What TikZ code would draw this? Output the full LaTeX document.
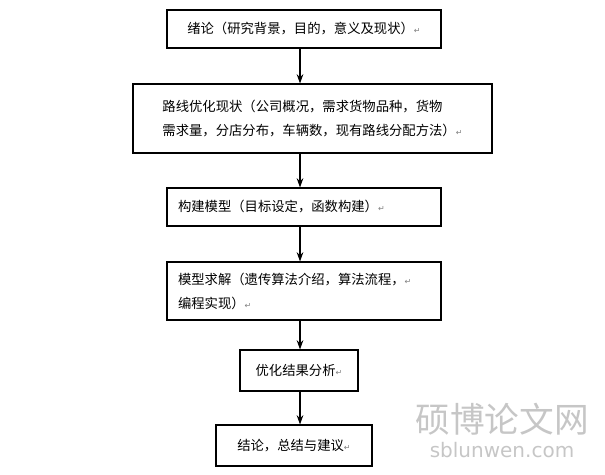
\documentclass[tikz,border=0pt]{standalone}
\usepackage{fontspec}
\setmainfont{Liberation Serif}
\newfontfamily\cjk{Noto Sans CJK SC}
\newfontfamily\symf{DejaVu Sans}
\usetikzlibrary{arrows.meta,positioning}
\newcommand{\pmark}{{\symf\fontsize{6}{6}\selectfont\textcolor{gray}{↵}}}
\tikzset{
  stepbox/.style={draw,thick,minimum height=#1,inner sep=0pt,font=\cjk\fontsize{10}{18}\selectfont},
  flow/.style={->,>={Stealth[length=7pt,width=5pt]},thick}
}
\begin{document}
\begin{tikzpicture}[x=0.75pt,y=-0.75pt]
\useasboundingbox (0,0) rectangle (605,474);
\node[stepbox=38*0.75pt,minimum width=274*0.75pt] (intro) at (304,29) {绪论（研究背景，目的，意义及现状）\pmark};
\node[stepbox=69*0.75pt,minimum width=359*0.75pt,align=left] (status) at (312.5,118.5)
  {路线优化现状（公司概况，需求货物品种，货物\\需求量，分店分布，车辆数，现有路线分配方法）\pmark};
\node[stepbox=38*0.75pt,minimum width=274*0.75pt,text width=252*0.75pt,align=left] (model) at (304,207)
  {构建模型（目标设定，函数构建）\pmark};
\node[stepbox=58*0.75pt,minimum width=274*0.75pt,text width=252*0.75pt,align=left] (solve) at (304,291)
  {模型求解（遗传算法介绍，算法流程，\pmark\\编程实现）\pmark};
\node[stepbox=41*0.75pt,minimum width=118*0.75pt] (result) at (299,370.5) {优化结果分析\pmark};
\node[stepbox=41*0.75pt,minimum width=156*0.75pt] (concl) at (294,445.5) {结论，总结与建议\pmark};
\draw[flow] (intro.south -| 300,0) -- (status.north -| 300,0);
\draw[flow] (status.south -| 300,0) -- (model.north -| 300,0);
\draw[flow] (model.south -| 300,0) -- (solve.north -| 300,0);
\draw[flow] (solve.south -| 300,0) -- (result.north -| 300,0);
\draw[flow] (result.south -| 300,0) -- (concl.north -| 300,0);
\node[text=gray!45,font=\cjk\fontsize{26}{26}\selectfont] (wm) at (502,419) {硕博论文网};
\node[text=gray!45,font=\symf\fontsize{15}{15}\selectfont,below=-2pt of wm] (wmurl) {sblunwen.com};
\end{tikzpicture}
\end{document}
